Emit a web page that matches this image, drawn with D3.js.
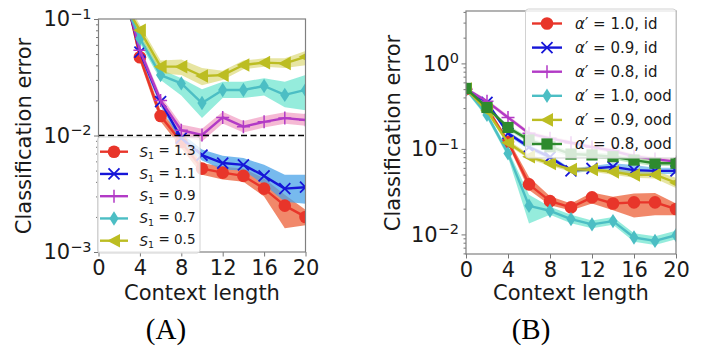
<!DOCTYPE html>
<html><head><meta charset="utf-8">
<script src="https://cdn.jsdelivr.net/npm/d3@7"></script>
<style>body{margin:0;background:#fff}svg{display:block}</style>
</head><body>
<svg id="c" width="702" height="360"></svg>
<script>
// ---------- data ----------
const contextLen = [0,2,4,6,8,10,12,14,16,18,20];
const xTicks = [0,4,8,12,16,20];

// Panel A : S1 values
const labelsA = ["1.3","1.1","0.9","0.7","0.5"];
const errA13 = [0.50,0.29,0.047,0.0147,0.0088,0.0052,0.0048,0.0045,0.0035,0.0025,0.0020];
const loA13  = [0.45,0.26,0.043,0.0132,0.0078,0.0046,0.0042,0.0040,0.0030,0.0016,0.0017];
const hiA13  = [0.55,0.32,0.052,0.0164,0.0098,0.0058,0.0054,0.0052,0.0043,0.0031,0.0023];
const errA11 = [0.50,0.26,0.052,0.0195,0.0095,0.0068,0.0058,0.0056,0.0045,0.0035,0.0036];
const loA11  = [0.45,0.24,0.047,0.0178,0.0086,0.0061,0.0051,0.0050,0.0038,0.0027,0.0026];
const hiA11  = [0.55,0.29,0.057,0.0213,0.0105,0.0076,0.0067,0.0064,0.0056,0.0046,0.0046];
const errA09 = [0.50,0.26,0.054,0.0200,0.0111,0.0101,0.0143,0.0119,0.0131,0.0141,0.0136];
const loA09  = [0.45,0.23,0.049,0.0180,0.0099,0.0089,0.0127,0.0106,0.0117,0.0126,0.0121];
const hiA09  = [0.55,0.29,0.059,0.0220,0.0124,0.0114,0.0160,0.0133,0.0147,0.0158,0.0153];
const errA07 = [0.50,0.18,0.068,0.033,0.028,0.0190,0.0246,0.0246,0.0266,0.0223,0.0246];
const loA07  = [0.45,0.16,0.062,0.030,0.022,0.0141,0.0210,0.0210,0.0220,0.0175,0.0165];
const hiA07  = [0.55,0.20,0.075,0.037,0.031,0.0250,0.0290,0.0290,0.0310,0.0290,0.0330];
const errA05 = [0.50,0.16,0.080,0.039,0.039,0.0324,0.033,0.0403,0.0422,0.0416,0.0474];
const loA05  = [0.45,0.14,0.072,0.034,0.033,0.027,0.030,0.037,0.039,0.038,0.040];
const hiA05  = [0.55,0.18,0.089,0.044,0.045,0.038,0.036,0.044,0.046,0.046,0.053];

// Panel B : alpha' values
const labelsB = ["1.0, id","0.9, id","0.8, id","1.0, ood","0.9, ood","0.8, ood"];
const errB10id = [0.50,0.30,0.121,0.0385,0.0245,0.0207,0.0271,0.0230,0.0237,0.0237,0.0198];
const loB10id  = [0.47,0.28,0.112,0.033,0.022,0.019,0.023,0.0192,0.0158,0.0167,0.0167];
const hiB10id  = [0.53,0.32,0.131,0.047,0.028,0.023,0.031,0.0275,0.030,0.0305,0.023];
const errB09id = [0.50,0.35,0.152,0.105,0.080,0.0555,0.059,0.0617,0.0565,0.0553,0.0553];
const loB09id  = [0.47,0.33,0.143,0.098,0.075,0.052,0.055,0.056,0.049,0.051,0.051];
const hiB09id  = [0.53,0.37,0.162,0.112,0.085,0.059,0.063,0.068,0.065,0.060,0.060];
const errB08id = [0.50,0.36,0.233,0.152,0.133,0.118,0.105,0.095,0.082,0.076,0.071];
const loB08id  = [0.47,0.34,0.220,0.143,0.125,0.111,0.099,0.089,0.077,0.071,0.067];
const hiB08id  = [0.53,0.38,0.247,0.161,0.141,0.125,0.111,0.101,0.087,0.081,0.075];
const errB10ood = [0.50,0.25,0.0886,0.0216,0.0189,0.0151,0.0131,0.0143,0.0092,0.0084,0.0098];
const loB10ood  = [0.47,0.23,0.080,0.0134,0.017,0.0135,0.0118,0.013,0.0082,0.0075,0.0088];
const hiB10ood  = [0.53,0.27,0.098,0.029,0.021,0.017,0.0145,0.016,0.0103,0.0095,0.011];
const errB09ood = [0.50,0.28,0.118,0.081,0.0676,0.0575,0.0575,0.0539,0.0495,0.050,0.0402];
const loB09ood  = [0.47,0.26,0.110,0.076,0.063,0.054,0.054,0.050,0.046,0.045,0.035];
const hiB09ood  = [0.53,0.30,0.127,0.087,0.072,0.061,0.061,0.058,0.054,0.055,0.046];
const errB08ood = [0.51,0.305,0.178,0.127,0.106,0.087,0.085,0.081,0.074,0.068,0.068];
const loB08ood  = [0.48,0.285,0.166,0.118,0.098,0.080,0.078,0.075,0.068,0.063,0.063];
const hiB08ood  = [0.54,0.325,0.190,0.136,0.114,0.094,0.092,0.087,0.080,0.074,0.074];

// ---------- styles ----------
const RED="#e8352a", BLUE="#1616d8", PURP="#b23ac6", TEAL="#4cbec4", OLIVE="#bcbd22", GREEN="#2e8a2e";
const seriesA = [
  {lab:labelsA[0], v:errA13, lo:loA13, hi:hiA13, c:RED, band:"#ee6a45", bo:0.8, m:"o"},
  {lab:labelsA[1], v:errA11, lo:loA11, hi:hiA11, c:BLUE, band:"#4aa3e8", bo:0.75, m:"x"},
  {lab:labelsA[2], v:errA09, lo:loA09, hi:hiA09, c:PURP, band:"#f2a2c6", bo:0.75, m:"+"},
  {lab:labelsA[3], v:errA07, lo:loA07, hi:hiA07, c:TEAL, band:"#4fe0c4", bo:0.6, m:"d"},
  {lab:labelsA[4], v:errA05, lo:loA05, hi:hiA05, c:OLIVE, band:"#d4cf55", bo:0.55, m:"<"}
];
const seriesB = [
  {lab:labelsB[0], v:errB10id, lo:loB10id, hi:hiB10id, c:RED, band:"#ee6a45", bo:0.8, m:"o"},
  {lab:labelsB[1], v:errB09id, lo:loB09id, hi:hiB09id, c:BLUE, band:"#4aa3e8", bo:0.6, m:"x"},
  {lab:labelsB[2], v:errB08id, lo:loB08id, hi:hiB08id, c:PURP, band:"#f2a2c6", bo:0.6, m:"+"},
  {lab:labelsB[3], v:errB10ood, lo:loB10ood, hi:hiB10ood, c:TEAL, band:"#4fe0c4", bo:0.6, m:"d"},
  {lab:labelsB[4], v:errB09ood, lo:loB09ood, hi:hiB09ood, c:OLIVE, band:"#d4cf55", bo:0.55, m:"<"},
  {lab:labelsB[5], v:errB08ood, lo:loB08ood, hi:hiB08ood, c:GREEN, band:"#7fd07f", bo:0.5, m:"s"}
];

const svg = d3.select("#c");
const FONT = "DejaVu Sans, sans-serif";

function marker(g, type, color, x, y){
  let p;
  switch(type){
    case "o": return g.append("circle").attr("cx",x).attr("cy",y).attr("r",6.3).attr("fill",color);
    case "x": return g.append("path").attr("d",`M${x-5.5},${y-5.5}L${x+5.5},${y+5.5}M${x-5.5},${y+5.5}L${x+5.5},${y-5.5}`).attr("stroke",color).attr("stroke-width",1.8).attr("fill","none");
    case "+": return g.append("path").attr("d",`M${x-6.5},${y}H${x+6.5}M${x},${y-6.5}V${y+6.5}`).attr("stroke",color).attr("stroke-width",1.5).attr("fill","none");
    case "d": return g.append("path").attr("d",`M${x},${y-7.2}L${x+4.6},${y}L${x},${y+7.2}L${x-4.6},${y}Z`).attr("fill",color);
    case "<": return g.append("path").attr("d",`M${x-6.8},${y}L${x+6},${y-6.8}L${x+6},${y+6.8}Z`).attr("fill",color);
    case "s": return g.append("rect").attr("x",x-5.6).attr("y",y-5.6).attr("width",11.2).attr("height",11.2).attr("fill",color);
  }
}

function supLabels(sel){
  sel.selectAll(".tick text").each(function(d){
    const t = d3.select(this);
    const e = Math.round(Math.log10(d));
    t.text(null);
    t.append("tspan").text("10");
    t.append("tspan").attr("dy","-0.5em").attr("font-size","14.5px").text(e<0 ? "\u2212"+(-e) : String(e));
  });
}

function panel(cfg){
  const {x, y, series, major, minor, id} = cfg;
  const [x0,x1] = x.range(), [y1,y0] = y.range();
  const g = svg.append("g");
  svg.append("defs").append("clipPath").attr("id",id).append("rect")
    .attr("x",x0).attr("y",y0).attr("width",x1-x0).attr("height",y1-y0);
  const data = g.append("g").attr("clip-path",`url(#${id})`);
  const area = d3.area().x((d,i)=>x(contextLen[i])).y0(d=>y(d[0])).y1(d=>y(d[1]));
  const line = d3.line().x((d,i)=>x(contextLen[i])).y(d=>y(d));
  series.forEach(s=>{
    data.append("path").datum(s.lo.map((l,i)=>[l,s.hi[i]])).attr("d",area)
      .attr("fill",s.band).attr("opacity",s.bo);
  });
  series.forEach(s=>{
    data.append("path").datum(s.v).attr("d",line).attr("fill","none")
      .attr("stroke",s.c).attr("stroke-width",2.4).attr("stroke-linejoin","round");
    s.v.forEach((v,i)=>marker(data, s.m, s.c, x(contextLen[i]), y(v)));
  });
  if(cfg.hline){
    data.append("line").attr("x1",x(0)).attr("x2",x(20)).attr("y1",y(cfg.hline)).attr("y2",y(cfg.hline))
      .attr("stroke","#000").attr("stroke-width",1.6).attr("stroke-dasharray","6,3.5");
  }
  // axes
  const ax = g.append("g").attr("transform",`translate(0,${y1})`)
    .call(d3.axisBottom(x).tickValues(xTicks).tickSize(4.5).tickPadding(3.5));
  const ayMinor = g.append("g").attr("transform",`translate(${x0},0)`)
    .call(d3.axisLeft(y).tickValues(minor).tickSize(2.5).tickFormat(""));
  const ay = g.append("g").attr("transform",`translate(${x0},0)`)
    .call(d3.axisLeft(y).tickValues(major).tickSize(4.5).tickPadding(2.5));
  supLabels(ay);
  [ax,ay,ayMinor].forEach(a=>{
    a.select(".domain").remove();
    a.selectAll(".tick line").attr("stroke","#777").attr("stroke-width",1);
    a.selectAll("text").attr("font-family",FONT).attr("font-size","21px").attr("fill","#1a1a1a");
  });
  ay.selectAll(".tick text tspan:last-child").attr("font-size","14.5px");
  g.append("rect").attr("x",x0).attr("y",y0).attr("width",x1-x0).attr("height",y1-y0)
    .attr("fill","none").attr("stroke","#808080").attr("stroke-width",1.2);
  // labels
  g.append("text").attr("x",(x0+x1)/2).attr("y",300).attr("text-anchor","middle")
    .attr("font-family",FONT).attr("font-size","21px").attr("fill","#1a1a1a").text("Context length");
  g.append("text").attr("transform",`translate(${cfg.ylabX},${cfg.ylabY}) rotate(-90)`)
    .attr("text-anchor","middle").attr("dy","0.36em")
    .attr("font-family",FONT).attr("font-size","21px").attr("fill","#1a1a1a").text("Classification error");
  g.append("text").attr("x",cfg.tagX).attr("y",339).attr("text-anchor","middle")
    .attr("font-family","Liberation Serif, serif").attr("font-size","29px").attr("fill","#000").text(cfg.tag);
  // legend
  const L = cfg.legend;
  const lg = svg.append("g");
  lg.append("rect").attr("x",L.x).attr("y",L.y).attr("width",L.w).attr("height",L.h).attr("rx",3)
    .attr("fill","#fff").attr("fill-opacity",0.8).attr("stroke","#d2d2d2").attr("stroke-width",1);
  series.forEach((s,i)=>{
    const yy = L.r0 + i*L.dr;
    lg.append("line").attr("x1",L.hx0).attr("x2",L.hx1).attr("y1",yy).attr("y2",yy)
      .attr("stroke",s.c).attr("stroke-width",2.4);
    marker(lg, s.m, s.c, (L.hx0+L.hx1)/2, yy);
    const t = lg.append("text").attr("x",L.tx).attr("y",yy).attr("dy","0.36em")
      .attr("font-family",FONT).attr("font-size",L.fs+"px").attr("fill","#1a1a1a");
    cfg.legendText(t, s.lab);
  });
}

panel({
  id:"clipA", tag:"(A)", tagX:166,
  x: d3.scaleLinear([0,20],[98.5,305.5]),
  y: d3.scaleLog([1e-3,1e-1],[252,19]),
  series: seriesA,
  major:[1e-3,1e-2,1e-1],
  minor:[2e-3,3e-3,4e-3,5e-3,6e-3,7e-3,8e-3,9e-3,2e-2,3e-2,4e-2,5e-2,6e-2,7e-2,8e-2,9e-2],
  hline:0.01, ylabX:23, ylabY:136,
  legend:{x:97.5,y:137,w:102.5,h:116,r0:151.7,dr:22.25,hx0:100,hx1:128,tx:139.5,fs:13.5},
  legendText:(t,lab)=>{
    t.append("tspan").attr("font-style","italic").text("S");
    t.append("tspan").attr("font-size","9.5px").attr("dy","0.3em").text("1");
    t.append("tspan").attr("dy","-0.3em").text(" = "+lab);
  }
});
panel({
  id:"clipB", tag:"(B)", tagX:531,
  x: d3.scaleLinear([0,20],[466,676]),
  y: d3.scaleLog([0.0059,4.1],[254,11]),
  series: seriesB,
  major:[1e-2,1e-1,1],
  minor:[6e-3,7e-3,8e-3,9e-3,2e-2,3e-2,4e-2,5e-2,6e-2,7e-2,8e-2,9e-2,0.2,0.3,0.4,0.5,0.6,0.7,0.8,0.9,2,3,4],
  ylabX:392, ylabY:133,
  legend:{x:525.5,y:9,w:150.5,h:149,r0:23.5,dr:24.1,hx0:532,hx1:562,tx:575,fs:15},
  legendText:(t,lab)=>{
    t.append("tspan").attr("font-style","italic").text("\u03b1");
    t.append("tspan").text("\u2032 = "+lab);
  }
});
</script>
</body></html>
